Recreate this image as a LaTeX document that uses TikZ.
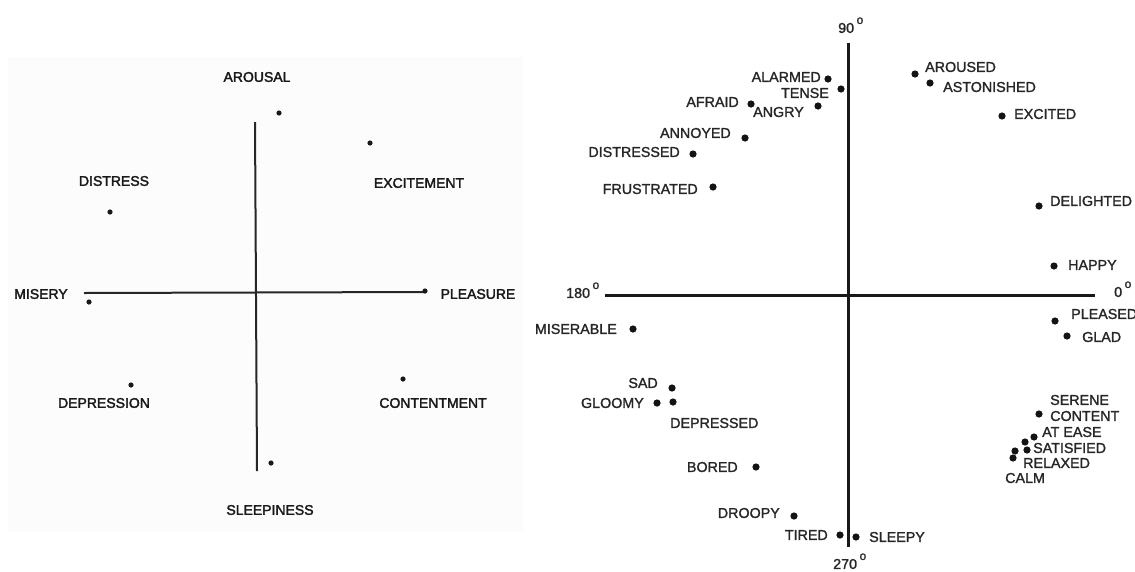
\documentclass[tikz,border=0pt]{standalone}
\usepackage{fontspec}
\setmainfont{Liberation Sans}
\newfontfamily\leftfont{Liberation Sans}[FakeBold=2.2]
\newfontfamily\rightfont{Liberation Sans}[FakeBold=1.4]
\newcommand{\degmark}{\hspace{2.5pt}\smash{\raisebox{9pt}{\fontsize{12}{12}\selectfont o}}}
\begin{document}
\begin{tikzpicture}[x=1pt,y=-1pt,
  ldot/.style={circle,fill=black!90,inner sep=0pt,minimum size=5.2pt},
  rdot/.style={circle,fill=black!92,inner sep=0pt,minimum size=7.2pt},
  llab/.style={inner sep=0pt,text=black!90,font=\leftfont\fontsize{14}{14}\selectfont},
  rlab/.style={inner sep=0pt,text=black!85,font=\rightfont\fontsize{14.3}{14.3}\selectfont},
  laxis/.style={draw=black!85,line width=2pt},
  raxis/.style={draw=black!90,line width=3pt}]
\useasboundingbox (0,0) rectangle (1135,571);
\fill[white] (0,0) rectangle (1135,571);
% left panel sheet
\fill[black!1.2] (8,57) rectangle (523,532);

% ---- left panel: circumplex of eight categories ----
\coordinate (lvTop) at (255,122);
\coordinate (lvBot) at (257,471);
\coordinate (lhL) at (84,293);
\coordinate (lhR) at (425,292);
\draw[laxis] (lvTop) -- (lvBot);
\draw[laxis] (lhL) -- (lhR);

\node[ldot] (arousalD) at (279,113) {};
\node[llab] (arousal) at (257,77) {AROUSAL};
\node[ldot] (excitementD) at (370,143) {};
\node[llab] (excitement) at (419,183) {EXCITEMENT};
\node[ldot] (distressD) at (110,212) {};
\node[llab] (distress) at (114,181) {DISTRESS};
\node[ldot] (miseryD) at (89,302) {};
\node[llab] (misery) at (41,294) {MISERY};
\node[ldot] (pleasureD) at (425,291) {};
\node[llab] (pleasure) at (478,294) {PLEASURE};
\node[ldot] (depressionD) at (131,385) {};
\node[llab] (depression) at (104,403) {DEPRESSION};
\node[ldot] (contentmentD) at (403,379) {};
\node[llab] (contentment) at (433,403) {CONTENTMENT};
\node[ldot] (sleepinessD) at (271,463) {};
\node[llab] (sleepiness) at (270,510) {SLEEPINESS};

% ---- right panel: 28 affect words ----
\coordinate (rvTop) at (848,43);
\coordinate (rvBot) at (848,547);
\coordinate (rhL) at (605,295);
\coordinate (rhR) at (1095,295);
\draw[raxis] (rvTop) -- (rvBot);
\draw[raxis] (rhL) -- (rhR);

\node[rlab,anchor=west] (deg90) at (838,28) {90\degmark};
\node[rlab,anchor=west] (deg180) at (566,293) {180\degmark};
\node[rlab,anchor=west] (deg0) at (1114,292) {0\degmark};
\node[rlab,anchor=west] (deg270) at (833,564) {270\degmark};

\node[rdot] (alarmedD) at (828,79) {};
\node[rlab,anchor=east] (alarmed) at (821,77) {ALARMED};
\node[rdot] (tenseD) at (841,89) {};
\node[rlab,anchor=east] (tense) at (829,93) {TENSE};
\node[rdot] (afraidD) at (751,104) {};
\node[rlab,anchor=east] (afraid) at (739,102) {AFRAID};
\node[rdot] (angryD) at (818,106) {};
\node[rlab,anchor=west] (angry) at (753,112) {ANGRY};
\node[rdot] (annoyedD) at (745,138) {};
\node[rlab,anchor=east] (annoyed) at (731,133) {ANNOYED};
\node[rdot] (distressedD) at (693,154) {};
\node[rlab,anchor=east] (distressed) at (680,152) {DISTRESSED};
\node[rdot] (frustratedD) at (713,187) {};
\node[rlab,anchor=east] (frustrated) at (698,189) {FRUSTRATED};

\node[rdot] (arousedD) at (915,74) {};
\node[rlab,anchor=west] (aroused) at (925,67) {AROUSED};
\node[rdot] (astonishedD) at (930,83) {};
\node[rlab,anchor=west] (astonished) at (943,87) {ASTONISHED};
\node[rdot] (excitedD) at (1002,116) {};
\node[rlab,anchor=west] (excited) at (1014,114) {EXCITED};
\node[rdot] (delightedD) at (1039,206) {};
\node[rlab,anchor=west] (delighted) at (1050,201) {DELIGHTED};
\node[rdot] (happyD) at (1054,266) {};
\node[rlab,anchor=west] (happy) at (1068,265) {HAPPY};
\node[rdot] (pleasedD) at (1055,321) {};
\node[rlab,anchor=west] (pleased) at (1071,314) {PLEASED};
\node[rdot] (gladD) at (1067,336) {};
\node[rlab,anchor=west] (glad) at (1082,337) {GLAD};

\node[rdot] (miserableD) at (633,329) {};
\node[rlab,anchor=east] (miserable) at (617,329) {MISERABLE};
\node[rdot] (sadD) at (672,388) {};
\node[rlab,anchor=east] (sad) at (658,383) {SAD};
\node[rdot] (gloomyD) at (657,403) {};
\node[rlab,anchor=east] (gloomy) at (644,403) {GLOOMY};
\node[rdot] (depressedD) at (673,402) {};
\node[rlab,anchor=west] (depressed) at (670,423) {DEPRESSED};
\node[rdot] (boredD) at (756,467) {};
\node[rlab,anchor=east] (bored) at (738,467) {BORED};
\node[rdot] (droopyD) at (794,516) {};
\node[rlab,anchor=east] (droopy) at (780,513) {DROOPY};
\node[rdot] (tiredD) at (840,535) {};
\node[rlab,anchor=east] (tired) at (828,535) {TIRED};
\node[rdot] (sleepyD) at (856,537) {};
\node[rlab,anchor=west] (sleepy) at (869,537) {SLEEPY};

\node[rdot] (contentD) at (1039,414) {};
\node[rlab,anchor=west] (serene) at (1050,400) {SERENE};
\node[rlab,anchor=west] (content) at (1050,416) {CONTENT};
\node[rdot] (ateaseD) at (1034,437) {};
\node[rlab,anchor=west] (atease) at (1042,432) {AT EASE};
\node[rdot] (satisfiedD) at (1025,442) {};
\node[rdot] (satisfiedDb) at (1027,450) {};
\node[rlab,anchor=west] (satisfied) at (1033,448) {SATISFIED};
\node[rdot] (relaxedD) at (1015,451) {};
\node[rdot] (calmD) at (1013,458) {};
\node[rlab,anchor=west] (relaxed) at (1023,463) {RELAXED};
\node[rlab,anchor=west] (calm) at (1005,478) {CALM};
\end{tikzpicture}
\end{document}
